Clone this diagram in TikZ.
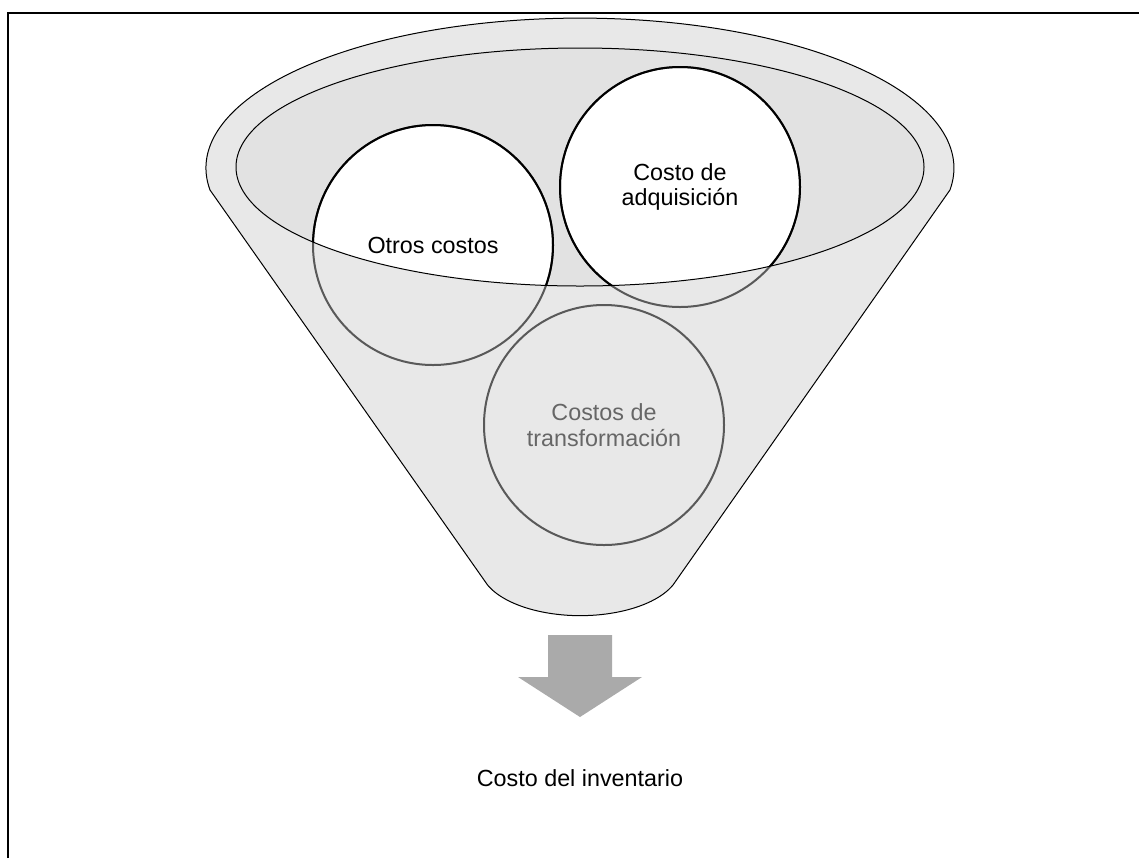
\documentclass[tikz,border=0pt]{standalone}
\usepackage{fontspec}
\setmainfont{Liberation Sans}
\definecolor{funnelgray}{HTML}{E8E8E8}
\definecolor{rimgray}{HTML}{E2E2E2}
\definecolor{ringgray}{HTML}{595959}
\definecolor{textgray}{HTML}{666666}
\definecolor{arrowgray}{HTML}{AAAAAA}
\begin{document}
\begin{tikzpicture}[x=0.75pt, y=-0.75pt,
		every node/.style={font=\fontsize{17.5}{19}\selectfont, align=center},
		cost/.style={circle, draw=ringgray, line width=1.5pt, minimum size=180pt, inner sep=0pt},
		thinline/.style={draw=black, line width=0.75pt}]
					\useasboundingbox (0,0) rectangle (1139,858);
					\draw[line width=1.5pt] (8,858) -- (8,13) -- (1139,13);

					\draw[thinline, fill=funnelgray] (210,190) arc[start angle=171.6, end angle=368.4, x radius=374, y radius=150] -- (673,585) arc[start angle=22, end angle=158, x radius=100, y radius=49] -- cycle;
					\fill[rimgray] (580,167) ellipse[x radius=344, y radius=119];
					\begin{scope}
						\clip (580,167) ellipse[x radius=344, y radius=119];
						\fill[white] (433,245) circle[radius=120];
						\fill[white] (680,187) circle[radius=120];
					\end{scope}

					\node[cost] (otros) at (433,245) {Otros costos};
					\node[cost] (adq) at (680,187) {Costo de\\adquisición};
					\node[cost, text=textgray] (transf) at (604,425) {Costos de\\transformación};

					\begin{scope}
						\clip (580,167) ellipse[x radius=344, y radius=119];
						\draw[black, line width=1.5pt] (otros.center) circle[radius=120];
						\draw[black, line width=1.5pt] (adq.center) circle[radius=120];
					\end{scope}
					\draw[thinline] (580,167) ellipse[x radius=344, y radius=119];

					\fill[arrowgray] (548,635) -- (612,635) -- (612,677) -- (642,677) -- (580,717) -- (518,677) -- (548,677) -- cycle;
					\node (result) at (580,778) {Costo del inventario};
				\end{tikzpicture}
\end{document}
